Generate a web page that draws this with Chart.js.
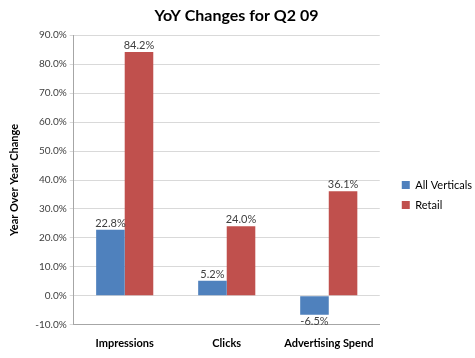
<!DOCTYPE html>
<html>
<head>
<meta charset="utf-8">
<script src="https://cdn.jsdelivr.net/npm/chart.js@4.4.1/dist/chart.umd.min.js"></script>
<style>
  html, body { margin: 0; padding: 0; background: #fff; }
  #wrap { width: 475px; height: 358px; }
</style>
</head>
<body>
<div id="wrap"><canvas id="yoyChart" width="475" height="358"></canvas></div>
<script>
const categories = ['Impressions', 'Clicks', 'Advertising Spend'];
const allVerticals = [22.8, 5.2, -6.5];
const retail = [84.2, 24.0, 36.1];
const seriesNames = ['All Verticals', 'Retail'];

// draws the value labels above (or below, for negatives) each bar
const barLabels = {
    id: 'barLabels',
    afterDatasetsDraw(chart) {
        const ctx = chart.ctx;
        ctx.save();
        ctx.font = '11px Lato, "Open Sans", sans-serif';
        ctx.fillStyle = '#404040';
        ctx.textAlign = 'center';
        chart.data.datasets.forEach((ds, i) => {
            chart.getDatasetMeta(i).data.forEach((bar, j) => {
                const v = ds.data[j];
                const txt = v.toFixed(1) + '%';
                if (v >= 0) {
                    ctx.textBaseline = 'bottom';
                    ctx.fillText(txt, bar.x, bar.y - 1);
                } else {
                    ctx.textBaseline = 'top';
                    ctx.fillText(txt, bar.x, bar.y + 1);
                }
            });
        });
        ctx.restore();
    }
};

// nudge the legend a little right and down, like the original
const legendNudge = {
    id: 'legendNudge',
    afterLayout(chart) {
        const lg = chart.legend;
        lg.left += 13; lg.right += 13;
        lg.top += 11; lg.bottom += 11;
    }
};

const ctx = document.getElementById('yoyChart').getContext('2d');
new Chart(ctx, {
    type: 'bar',
    data: {
        labels: categories,
        datasets: [
            {
                label: seriesNames[0],
                data: allVerticals,
                backgroundColor: '#4F81BD',
                categoryPercentage: 0.56,
                barPercentage: 1.0
            },
            {
                label: seriesNames[1],
                data: retail,
                backgroundColor: '#C0504D',
                categoryPercentage: 0.56,
                barPercentage: 1.0
            }
        ]
    },
    options: {
        responsive: false,
        animation: false,
        layout: { padding: { top: 6, right: 6, left: 4, bottom: -4 } },
        plugins: {
            title: {
                display: true,
                text: 'YoY Changes for Q2 09',
                color: '#000',
                font: { family: 'Lato, "Open Sans", sans-serif', size: 16, weight: 'bold' },
                padding: { top: 0, bottom: 10 }
            },
            legend: {
                position: 'right',
                labels: {
                    boxWidth: 8,
                    boxHeight: 8,
                    padding: 9,
                    color: '#000',
                    font: { family: 'Lato, "Open Sans", sans-serif', size: 11 }
                }
            },
            tooltip: { enabled: false }
        },
        scales: {
            x: {
                grid: { display: false, drawTicks: false },
                border: { color: '#a6a6a6' },
                ticks: {
                    color: '#000',
                    padding: 12,
                    font: { family: 'Lato, "Open Sans", sans-serif', size: 11, weight: 'bold' }
                }
            },
            y: {
                min: -10,
                max: 90,
                grid: { color: '#d9d9d9', tickLength: 4 },
                border: { color: '#a6a6a6' },
                ticks: {
                    stepSize: 10,
                    color: '#404040',
                    font: { family: 'Lato, "Open Sans", sans-serif', size: 10 },
                    callback: v => v.toFixed(1) + '%'
                },
                title: {
                    display: true,
                    text: 'Year Over Year Change',
                    color: '#000',
                    padding: { top: 4, bottom: 11 },
                    font: { family: 'Lato, "Open Sans", sans-serif', size: 11, weight: 'bold' }
                }
            }
        }
    },
    plugins: [barLabels, legendNudge]
});
</script>
</body>
</html>
